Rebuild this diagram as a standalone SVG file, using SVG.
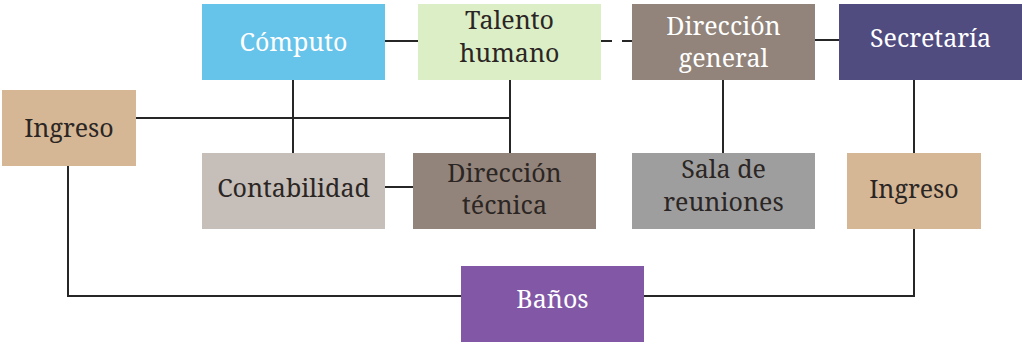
<svg xmlns="http://www.w3.org/2000/svg" width="1022" height="344" viewBox="0 0 1022 344">
<style>
text{font-family:'Noto Serif','Liberation Serif',serif;font-size:25px;text-anchor:middle}
.d{fill:#2b2624}
.w{fill:#ffffff}
.c line,.c polyline{stroke:#262626;stroke-width:2;fill:none}
</style>
<rect width="1022" height="344" fill="#ffffff"/>
<g class="c" id="connectors">
<line x1="385" y1="41" x2="418" y2="41"/>
<line x1="601" y1="41" x2="632" y2="41" stroke-dasharray="11 10"/>
<line x1="815" y1="40" x2="839" y2="40"/>
<line x1="293" y1="80" x2="293" y2="153"/>
<line x1="136" y1="118" x2="510" y2="118"/>
<line x1="510" y1="80" x2="510" y2="153"/>
<line x1="385" y1="187" x2="413" y2="187"/>
<line x1="723" y1="80" x2="723" y2="153"/>
<line x1="914" y1="80" x2="914" y2="153"/>
<polyline points="68,166 68,296 461,296"/>
<polyline points="644,296 914,296 914,229"/>
</g>
<g id="computo"><rect x="202" y="4" width="183" height="76" fill="#66c3ea"/><text class="w" x="293.5" y="51">Cómputo</text></g>
<g id="talento"><rect x="418" y="4" width="183" height="76" fill="#dbeec6"/><text class="d" x="509.5" y="29">Talento</text><text class="d" x="509.5" y="62">humano</text></g>
<g id="direccion-general"><rect x="632" y="4" width="183" height="76" fill="#92847a"/><text class="w" x="723.5" y="35">Dirección</text><text class="w" x="723.5" y="67">general</text></g>
<g id="secretaria"><rect x="839" y="4" width="183" height="76" fill="#504c7f"/><text class="w" x="930.5" y="47">Secretaría</text></g>
<g id="ingreso-izq"><rect x="2" y="90" width="134" height="76" fill="#d5b795"/><text class="d" x="69" y="137">Ingreso</text></g>
<g id="contabilidad"><rect x="202" y="153" width="183" height="76" fill="#c6beb8"/><text class="d" x="293.5" y="197">Contabilidad</text></g>
<g id="direccion-tecnica"><rect x="413" y="153" width="183" height="76" fill="#92847a"/><text class="d" x="504.5" y="182">Dirección</text><text class="d" x="504.5" y="214">técnica</text></g>
<g id="sala"><rect x="632" y="153" width="183" height="76" fill="#9e9e9e"/><text class="d" x="723.5" y="178">Sala de</text><text class="d" x="723.5" y="211">reuniones</text></g>
<g id="ingreso-der"><rect x="847" y="153" width="134" height="76" fill="#d5b795"/><text class="d" x="914" y="198">Ingreso</text></g>
<g id="banos"><rect x="461" y="266" width="183" height="76" fill="#8258a6"/><text class="w" x="552.5" y="308">Baños</text></g>
</svg>
